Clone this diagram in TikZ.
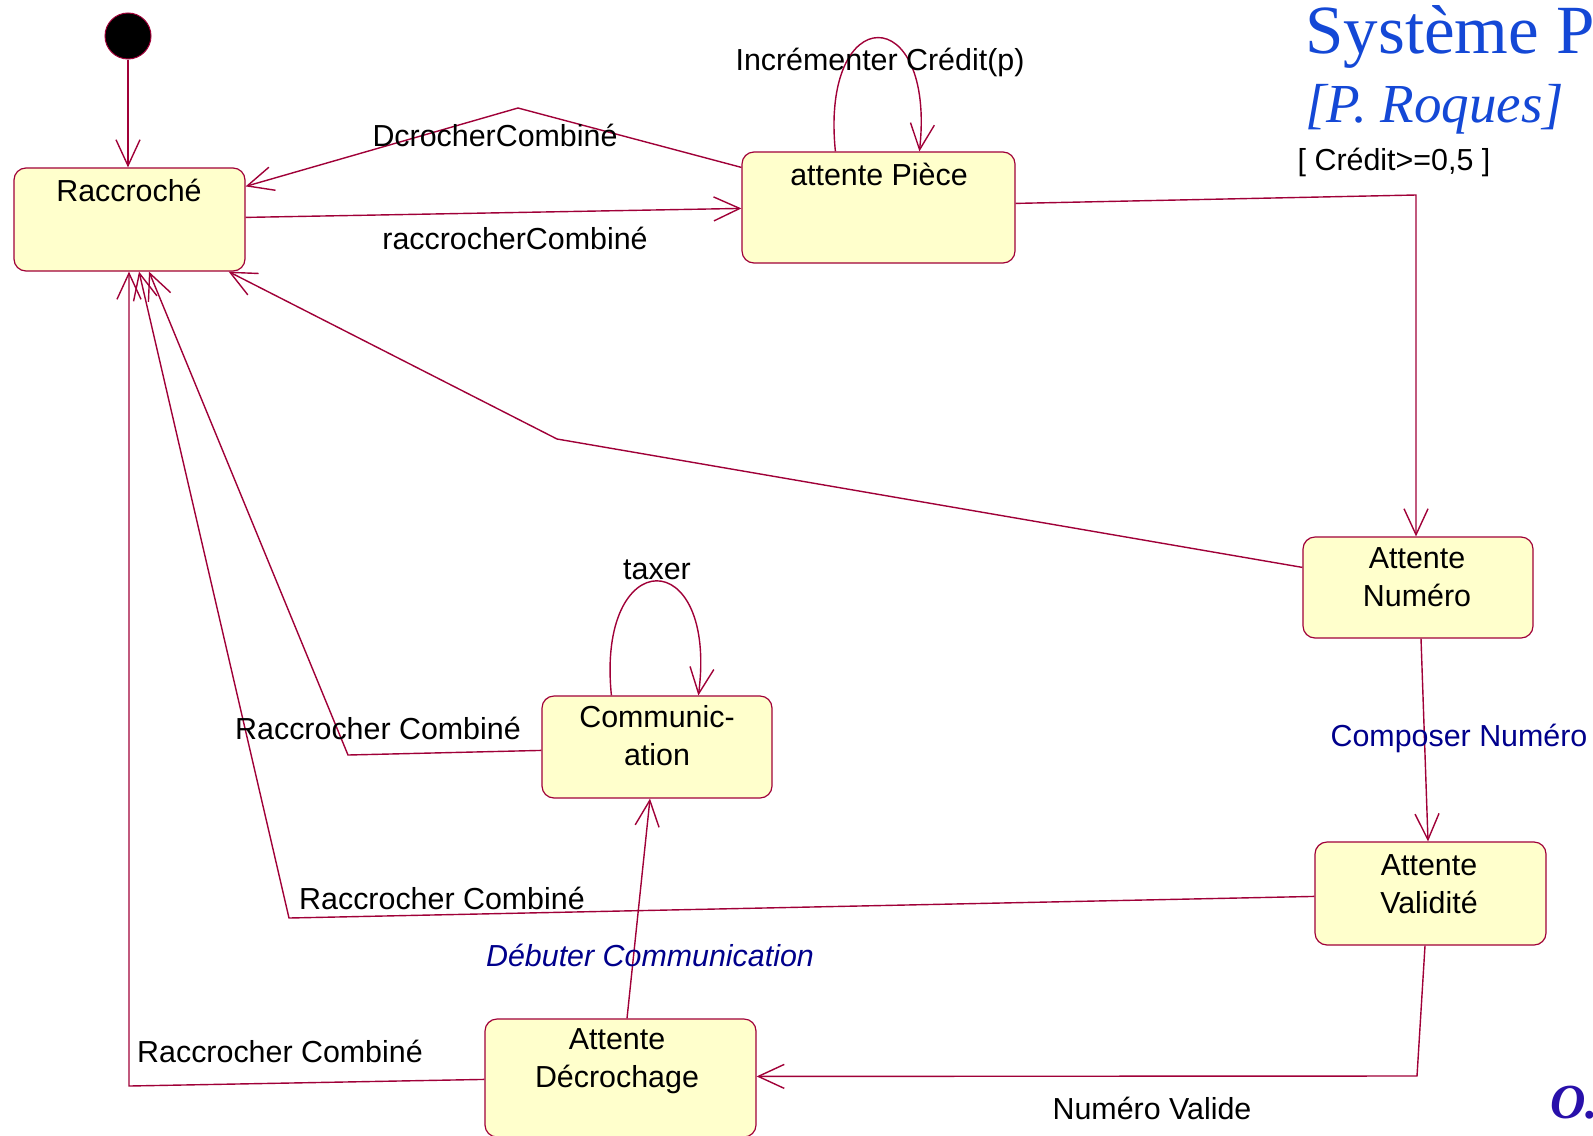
\documentclass[tikz,border=0pt]{standalone}
\usepackage{fontspec}
\setmainfont{Liberation Sans}
\newfontfamily\titlefont{Liberation Serif}
\usetikzlibrary{arrows.meta,calc}
\definecolor{edgecol}{RGB}{160,0,56}
\definecolor{boxfill}{RGB}{255,255,204}
\definecolor{navy}{RGB}{0,0,140}
\definecolor{titleblue}{RGB}{20,72,214}
\definecolor{oviolet}{RGB}{40,16,170}
\tikzset{
  statebox/.style={draw=edgecol, fill=boxfill, line width=0.6pt, rounded corners=6pt, inner sep=0pt},
  statetext/.style={font=\fontsize{15.2pt}{19pt}\selectfont, align=center, inner sep=0pt},
  conn/.style={draw=edgecol, line width=0.7pt},
  arr/.style={conn, -{Straight Barb[length=13pt,width=12pt,line width=0.7pt]}},
  lbl/.style={font=\fontsize{15.2pt}{19pt}\selectfont, inner sep=0pt},
  bluelbl/.style={lbl, text=navy},
}
\begin{document}
\begin{tikzpicture}[x=0.5pt,y=-0.5pt]
\useasboundingbox (0,0) rectangle (1593,1135);
\fill[white] (0,0) rectangle (1593,1135);

% initial pseudo-state
\node[circle, fill=black, draw=edgecol, line width=0.5pt, minimum size=23pt, inner sep=0pt] (I) at (128,36) {};

% states
\node[statebox, minimum width=115.5pt, minimum height=51.5pt] (R) at (129.5,219.5) {};
\node[statebox, minimum width=136.5pt, minimum height=55.5pt] (P) at (878.5,207.5) {};
\node[statebox, minimum width=115pt, minimum height=50.5pt] (N) at (1418,587.5) {};
\node[statebox, minimum width=115.5pt, minimum height=51.5pt] (V) at (1430.5,893.5) {};
\node[statebox, minimum width=115pt, minimum height=51pt] (C) at (657,747) {};
\node[statebox, minimum width=135.5pt, minimum height=59pt] (D) at (620.5,1078) {};

% state texts
\node[statetext] (Rt) at (129,190) {Raccroché};
\node[statetext] (Pt) at (879,174) {attente Pièce};
\node[statetext] (Nt) at (1417,577) {Attente\\Numéro};
\node[statetext] (Vt) at (1429,884) {Attente\\Validité};
\node[statetext] (Ct) at (657,736) {Communic-\\ation};
\node[statetext] (Dt) at (617,1061) {Attente\\Décrochage};

% bend points
\coordinate (b1) at (518,108);
\coordinate (b2) at (1416,195);
\coordinate (b3) at (557,439);
\coordinate (b4) at (289,918);
\coordinate (b5) at (348,755);
\coordinate (b6) at (129,1086);
\coordinate (b7) at (1417,1076);

% connectors
\draw[arr] (I.south) -- (I.south |- R.north);
\draw[arr] ($(P.north west)+(0,16)$) -- (b1) -- ($(R.north east)+(0,19)$);
\draw[arr] ($(R.north east)+(0,50)$) -- ($(P.north west)+(0,57)$);
\draw[arr] ($(P.north west)+(94,0)$) .. controls (820,0) and (936,0) .. ($(P.north west)+(178,0)$);
\draw[arr] ($(P.north east)+(0,52)$) -- (b2) -- (b2 |- N.north);
\draw[arr] ($(N.north west)+(0,31)$) -- (b3) -- ($(R.south east)+(-17,0)$);
\draw[arr] ($(N.south)+(3,0)$) -- ($(V.north)+(-2.5,0)$);
\draw[arr] ($(V.north west)+(0,55)$) -- (b4) -- ($(R.south)+(9.5,0)$);
\draw[arr] ($(C.north west)+(0,55)$) -- (b5) -- ($(R.south)+(19.5,0)$);
\draw[arr] ($(D.north west)+(0,61)$) -- (b6) -- (b6 |- R.south);
\draw[arr] ($(V.south)+(-5.5,0)$) -- (b7) -- ($(D.north east)+(0,58)$);
\draw[arr] ($(D.north)+(6.5,0)$) -- ($(C.south)+(-7,0)$);
\draw[arr] ($(C.north west)+(70,0)$) .. controls (596,543) and (718,543) .. ($(C.north west)+(157,0)$);

% transition labels
\node[lbl] (l1) at (495,135) {DcrocherCombiné};
\node[lbl] (l2) at (515,238) {raccrocherCombiné};
\node[lbl] (l3) at (880,62) {Incrémenter Crédit(p)};
\node[lbl] (l4) at (1394,162) {[ Crédit>=0,5 ]};
\node[bluelbl] (l5) at (1459,738) {Composer Numéro};
\node[lbl] (l6) at (657,570) {taxer};
\node[lbl] (l7) at (378,728) {Raccrocher Combiné};
\node[lbl] (l8) at (442,898) {Raccrocher Combiné};
\node[lbl] (l9) at (280,1051) {Raccrocher Combiné};
\node[bluelbl, font=\fontsize{15.2pt}{19pt}\selectfont\itshape] (l10) at (650,955) {Débuter Communication};
\node[lbl] (l11) at (1152,1108) {Numéro Valide};

% title texts
\node[anchor=base west, inner sep=0pt, text=titleblue, font=\titlefont\fontsize{34.5pt}{40pt}\selectfont] (t1) at (1305,53) {Système P};
\node[anchor=base west, inner sep=0pt, text=titleblue, font=\titlefont\itshape\fontsize{27.5pt}{32pt}\selectfont] (t2) at (1305,122) {[P. Roques]};
\node[anchor=base west, inner sep=0pt, text=oviolet, font=\titlefont\bfseries\itshape\fontsize{24.5pt}{28pt}\selectfont] (t3) at (1550,1118) {O.};
\end{tikzpicture}
\end{document}
